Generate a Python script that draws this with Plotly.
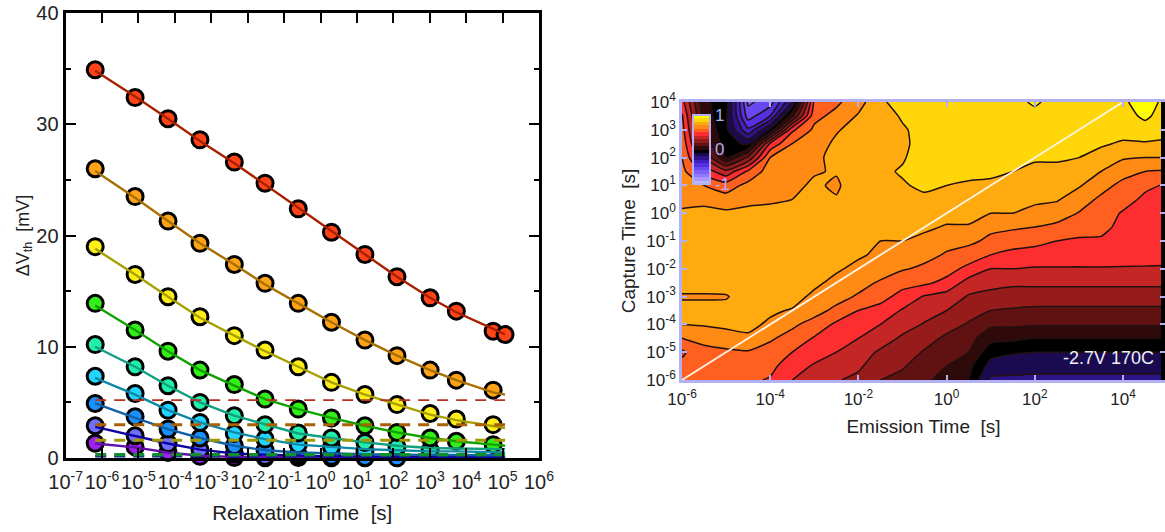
import plotly.graph_objects as go

# ---------- left panel data ----------
relax_time = [6.5e-7, 8.1e-6, 6.5e-5, 4.9e-4, 4.3e-3, 3.0e-2, 0.245, 2.0, 16.6, 126, 1023, 5370, 55000, 117000]

pts_red    = [34.9, 32.4, 30.5, 28.6, 26.6, 24.7, 22.4, 20.3, 18.3, 16.3, 14.4, 13.2, 11.4, 11.1]
pts_orange = [26.0, 23.5, 21.3, 19.3, 17.4, 15.7, 13.9, 12.2, 10.6, 9.2, 7.9, 7.0, 6.1, None]
pts_yellow = [19.0, 16.5, 14.5, 12.7, 11.0, 9.7, 8.2, 6.8, 5.7, 4.8, 4.0, 3.5, 3.0, None]
pts_green  = [13.9, 11.5, 9.6, 7.9, 6.6, 5.3, 4.4, 3.6, 2.9, 2.3, 1.8, 1.5, 1.2, None]
pts_teal   = [10.2, 8.2, 6.5, 5.0, 3.8, 3.0, 2.25, 1.8, 1.4, 1.0, 0.7, None, None, None]
pts_cyan   = [7.35, 5.8, 4.3, 3.2, 2.2, 1.7, 1.2, 1.0, 0.6, None, None, None, None, None]
pts_blue   = [4.9, 3.7, 2.6, 1.8, 1.1, 0.7, 0.3, 0.15, 0.05, 0.02, None, None, None, None]
pts_indigo = [2.9, 2.0, 1.3, 0.75, 0.35, 0.15, 0.05, 0.02, 0.02, None, None, None, None, None]
pts_purple = [1.33, 1.0, 0.5, 0.15, 0.05, 0.02, None, None, None, None, None, None, None, None]

fit_red    = [34.8, 32.5, 30.5, 28.5, 26.5, 24.6, 22.5, 20.4, 18.3, 16.3, 14.4, 13.1, 11.6, 11.1]
fit_orange = [25.8, 23.4, 21.3, 19.3, 17.4, 15.6, 13.9, 12.2, 10.6, 9.2, 7.9, 7.0, 5.9, 5.7]
fit_yellow = [18.8, 16.5, 14.5, 12.6, 11.0, 9.6, 8.2, 6.8, 5.7, 4.8, 3.9, 3.4, 2.85, 2.7]
fit_green  = [13.7, 11.5, 9.6, 7.9, 6.5, 5.3, 4.4, 3.6, 2.9, 2.3, 1.8, 1.5, 1.2, 1.1]
fit_teal   = [10.0, 8.2, 6.5, 5.0, 3.8, 3.0, 2.2, 1.8, 1.4, 1.1, 0.9, 0.85, 0.8, 0.8]
fit_cyan   = [7.2, 5.7, 4.3, 3.2, 2.3, 1.7, 1.2, 1.0, 0.8, 0.7, 0.6, 0.6, 0.55, 0.5]
fit_blue   = [4.9, 3.6, 2.6, 1.8, 1.1, 0.7, 0.5, 0.4, 0.35, 0.3, 0.3, 0.25, 0.25, 0.2]
fit_indigo = [2.8, 2.0, 1.3, 0.75, 0.4, 0.3, 0.2, 0.15, 0.15, 0.1, 0.1, 0.1, 0.1, 0.1]
fit_purple = [1.3, 0.95, 0.5, 0.2, 0.1, 0.08, 0.06, 0.05, 0.05, 0.05, 0.04, 0.04, 0.04, 0.04]

fill_colors = {"purple": "#a020f0", "indigo": "#7070ff", "blue": "#1a90ff", "cyan": "#22d4ff",
               "teal": "#22eeaa", "green": "#33ee18", "yellow": "#ffee18", "orange": "#ffa216", "red": "#ff4518"}
line_colors = {"purple": "#6010a8", "indigo": "#1000a0", "blue": "#1060a8", "cyan": "#1088a8",
               "teal": "#10a080", "green": "#10a000", "yellow": "#a8a000", "orange": "#a87000", "red": "#a82000"}
series_order = ["purple", "indigo", "blue", "cyan", "teal", "green", "yellow", "orange", "red"]
pts = dict(purple=pts_purple, indigo=pts_indigo, blue=pts_blue, cyan=pts_cyan, teal=pts_teal,
           green=pts_green, yellow=pts_yellow, orange=pts_orange, red=pts_red)
fit = dict(purple=fit_purple, indigo=fit_indigo, blue=fit_blue, cyan=fit_cyan, teal=fit_teal,
           green=fit_green, yellow=fit_yellow, orange=fit_orange, red=fit_red)

dash_x = [6.5e-7, 117000]
dash_levels = [0.15, 0.3, 1.6, 3.0, 5.2]
dash_colors = ["#1000a0", "#109030", "#a09a00", "#a86000", "#b83020"]
dash_widths = [2.5, 3.5, 3, 3, 1.8]

x_decades = list(range(-7, 7))
y_ticks = [0, 10, 20, 30, 40]

# ---------- right panel data ----------
emission_exp = [-6, -5.5, -5, -4.5, -4, -3.5, -3, -2.5, -2, -1.5, -1, -0.5, 0, 0.5, 1, 1.5, 2, 2.5, 3, 3.5, 4, 4.5, 5]
capture_exp = [4, 3.5, 3, 2.5, 2, 1.5, 1, 0.5, 0, -0.5, -1, -1.5, -2, -2.5, -3, -3.5, -4, -4.5, -5, -5.5, -6]

c_m60 = [.44,.51,.54,.57,.60,.63,.66,.68,.71,.74,.74,.75,.75,.74,.69,.73,.70,.60,.48,.53,.55]
c_m55 = [.02,.05,.10,.18,.30,.46,.60,.67,.73,.75,.76,.76,.76,.74,.69,.73,.71,.62,.58,.56,.56]
c_m50 = [-.05,-.08,-.08,-.06,.0,.33,.55,.64,.72,.76,.77,.77,.77,.76,.69,.74,.72,.66,.58,.56,.57]
c_m45 = [-.62,-.55,-.38,-.12,.22,.52,.63,.68,.72,.76,.77,.77,.77,.77,.76,.75,.73,.68,.59,.55,.52]
c_m40 = [-.55,-.4,-.08,.42,.6,.65,.67,.69,.72,.76,.78,.78,.78,.78,.76,.72,.68,.61,.57,.53,.49]
c_m35 = [-.2,.07,.48,.6,.62,.65,.67,.70,.72,.76,.78,.78,.79,.79,.75,.69,.615,.57,.5,.44,.40]
c_m30 = [.52,.57,.62,.65,.67,.69,.72,.74,.76,.77,.78,.79,.79,.73,.67,.63,.57,.49,.44,.39,.36]
c_m25 = [.58,.63,.69,.72,.74,.71,.68,.71,.76,.77,.78,.78,.72,.66,.63,.58,.48,.44,.40,.35,.31]
c_m20 = [.66,.71,.74,.75,.76,.77,.78,.78,.78,.78,.78,.72,.66,.63,.59,.5,.45,.40,.36,.32,.27]
c_m15 = [.78,.76,.76,.77,.78,.78,.79,.79,.79,.78,.70,.67,.64,.59,.53,.47,.40,.36,.28,.23,.20]
c_m10 = [.85,.81,.79,.78,.79,.81,.79,.77,.76,.74,.70,.65,.61,.53,.47,.39,.35,.28,.25,.21,.17]
c_m05 = [.84,.83,.83,.84,.85,.84,.82,.78,.75,.72,.67,.63,.58,.52,.39,.35,.29,.24,.19,.15,.12]
c_p00 = [.85,.85,.85,.85,.85,.84,.8,.78,.74,.69,.63,.59,.54,.47,.36,.3,.24,.18,.13,.1,.06]
c_p05 = [.85,.85,.85,.85,.84,.82,.79,.77,.74,.69,.62,.56,.47,.36,.29,.24,.19,.14,.1,.03,0]
c_p10 = [.86,.86,.85,.85,.84,.81,.79,.76,.7,.62,.58,.5,.40,.33,.27,.2,.12,.03,-.06,-.14,-.22]
c_p15 = [.86,.86,.85,.85,.83,.8,.77,.74,.7,.61,.56,.46,.40,.32,.25,.19,.12,.02,-.09,-.16,-.22]
c_p20 = [.92,.86,.86,.84,.81,.78,.74,.72,.67,.60,.52,.47,.39,.32,.25,.18,.11,0,-.1,-.16,-.23]
c_p25 = [.85,.86,.86,.84,.81,.78,.76,.71,.65,.575,.50,.47,.39,.32,.25,.18,.11,0,-.1,-.16,-.23]
c_p30 = [.86,.86,.85,.83,.8,.77,.71,.65,.595,.53,.49,.46,.39,.32,.25,.18,.11,0,-.1,-.16,-.23]
c_p35 = [.86,.86,.83,.81,.77,.7,.64,.58,.55,.52,.49,.47,.39,.32,.25,.18,.11,0,-.1,-.16,-.23]
c_p40 = [.88,.86,.83,.79,.71,.64,.57,.54,.49,.48,.47,.45,.39,.32,.25,.18,.11,0,-.1,-.16,-.23]
c_p45 = [.96,.92,.86,.79,.7,.6,.52,.48,.47,.46,.45,.44,.39,.32,.25,.18,.11,0,-.1,-.16,-.23]
c_p50 = [.86,.85,.82,.79,.7,.59,.49,.47,.46,.45,.44,.43,.39,.32,.25,.18,.11,0,-.1,-.16,-.23]

columns = [c_m60, c_m55, c_m50, c_m45, c_m40, c_m35, c_m30, c_m25, c_m20, c_m15, c_m10, c_m05,
           c_p00, c_p05, c_p10, c_p15, c_p20, c_p25, c_p30, c_p35, c_p40, c_p45, c_p50]

band_colors = ["#c0b8ff", "#a898ff", "#9078ff", "#7c60f8", "#6848f0", "#5430e0", "#4020c0", "#2c1488",
               "#1a0a50", "#000000", "#2e0a0a", "#601212", "#961c1c", "#c42626", "#fc2e30",
               "#ff6020", "#ff8a14", "#ffab10", "#ffd60a", "#ffff00"]

diag = [1e-6, 1e4]
strip_x = [10 ** 4.862, 10 ** 4.952, 10 ** 4.952, 10 ** 4.862, 10 ** 4.862]
strip_y = [1e-6, 1e-6, 1e4, 1e4, 1e-6]
lavender = "#b0b0f2"
font = "Liberation Sans"
W, H = 1165, 532

steps = []
for i, c in enumerate(band_colors):
    steps += [[i / len(band_colors), c], [(i + 1) / len(band_colors), c]]

# rows are listed top to bottom; plotly gets them bottom to top
z = [[col[r] for col in columns] for r in range(len(capture_exp) - 1, -1, -1)]

fig = go.Figure()

for name in series_order:
    fig.add_trace(go.Scatter(x=relax_time, y=pts[name], mode="markers", cliponaxis=False,
                             marker=dict(size=16, color=fill_colors[name], line=dict(color="black", width=3)),
                             showlegend=False, xaxis="x", yaxis="y"))
for name in series_order:
    fig.add_trace(go.Scatter(x=relax_time, y=fit[name], mode="lines",
                             line=dict(color=line_colors[name], width=2.4),
                             showlegend=False, xaxis="x", yaxis="y"))
for lv, c, w in zip(dash_levels, dash_colors, dash_widths):
    fig.add_trace(go.Scatter(x=dash_x, y=[lv, lv], mode="lines",
                             line=dict(color=c, width=w, dash="11px,8px"),
                             showlegend=False, xaxis="x", yaxis="y"))

fig.add_trace(go.Contour(x=[10 ** e for e in emission_exp], y=[10 ** e for e in capture_exp[::-1]], z=z,
                         zmin=-1, zmax=1, autocontour=False,
                         contours=dict(start=-1, end=1, size=0.1, coloring="fill"),
                         colorscale=steps, showscale=False,
                         line=dict(color="#221010", width=1.5, smoothing=0.5),
                         xaxis="x2", yaxis="y2", hoverinfo="skip"))
fig.add_trace(go.Scatter(x=diag, y=diag, mode="lines", line=dict(color="#fff6ea", width=1.8),
                         showlegend=False, xaxis="x2", yaxis="y2"))
fig.add_trace(go.Scatter(x=strip_x, y=strip_y, mode="lines", fill="toself", fillcolor="black",
                         line=dict(width=0, color="black"), showlegend=False, xaxis="x2", yaxis="y2"))
fig.add_trace(go.Scatter(x=[1e-6], y=[1e-6], mode="markers", showlegend=False, xaxis="x2", yaxis="y2",
                         marker=dict(size=1, opacity=0, color=[0], cmin=-1, cmax=1, colorscale=steps, showscale=True,
                                     colorbar=dict(x=693 / W, xanchor="left", y=1 - 149.5 / H, yanchor="middle",
                                                   lenmode="pixels", len=69, thicknessmode="pixels", thickness=17,
                                                   outlinecolor=lavender, outlinewidth=2, borderwidth=0,
                                                   xpad=0, ypad=0, ticks="", tickvals=[-1, 0, 1],
                                                   ticktext=["-1", "0", "1"], ticklabelposition="outside",
                                                   tickfont=dict(family=font, size=17, color=lavender))))) 

left_common = dict(showline=True, linecolor="black", linewidth=3, mirror="ticks", ticks="inside",
                   tickcolor="black", tickwidth=2, ticklen=10, showgrid=False, zeroline=False,
                   tickfont=dict(family=font, size=20, color="#222"))
right_common = dict(showline=True, linecolor=lavender, linewidth=2.5, mirror="ticks", ticks="inside",
                    tickcolor=lavender, tickwidth=2, ticklen=5, showgrid=False, zeroline=False,
                    tickfont=dict(family=font, size=17, color="#222"))

x2_ticks = [-6, -4, -2, 0, 2, 4]
y2_ticks = list(range(-6, 5))

fig.update_layout(
    width=W, height=H, margin=dict(l=0, r=0, t=0, b=0, autoexpand=False), autosize=False,
    paper_bgcolor="white", plot_bgcolor="white", showlegend=False,
    font=dict(family=font, color="#222"),
    xaxis=dict(type="log", domain=[65.6 / W, 539 / W], range=[-7, 6], anchor="y",
               tickmode="array", tickvals=[10.0 ** e for e in x_decades], tickangle=0,
               ticktext=[f"10<sup>{e}</sup>" for e in x_decades], ticklabelstandoff=4,
               title=dict(text="Relaxation Time\u00a0\u00a0[s]", font=dict(family=font, size=20.5, color="#222"), standoff=14),
               **left_common),
    yaxis=dict(domain=[1 - 458 / H, 1 - 13 / H], range=[0, 40], anchor="x",
               tickmode="array", tickvals=y_ticks,
               minor=dict(tickmode="array", tickvals=[5, 15, 25, 35], ticks="inside", ticklen=5, tickwidth=2, tickcolor="black"),
               title=dict(text="\u0394V<sub>th</sub>\u00a0\u00a0[mV]", font=dict(family=font, size=18, color="#222"), standoff=3),
               **left_common),
    xaxis2=dict(type="log", domain=[682 / W, 1165 / W], range=[-6, 4.952], anchor="y2",
                tickmode="array", tickvals=[10.0 ** e for e in x2_ticks], tickangle=0,
                ticktext=[f"10<sup>{e}</sup>" for e in x2_ticks], ticklabelstandoff=2,
                title=dict(text="Emission Time\u00a0\u00a0[s]", font=dict(family=font, size=19, color="#222"), standoff=12),
                **right_common),
    yaxis2=dict(type="log", domain=[1 - 380 / H, 1 - 102 / H], range=[-6, 4], anchor="x2",
                tickmode="array", tickvals=[10.0 ** e for e in y2_ticks],
                ticktext=[f"10<sup>{e}</sup>" for e in y2_ticks],
                title=dict(text="Capture Time\u00a0\u00a0[s]", font=dict(family=font, size=19, color="#222"), standoff=6),
                **right_common),
    annotations=[dict(xref="x2", yref="y2", x=3.66, y=-5.2, text="-2.7V 170C", showarrow=False,
                      font=dict(family=font, size=18, color="#eeeef8"))],
)

fig.write_html("out.html", config={"displayModeBar": False},
               post_script="document.body.style.margin='0';document.documentElement.style.overflow='hidden';")
